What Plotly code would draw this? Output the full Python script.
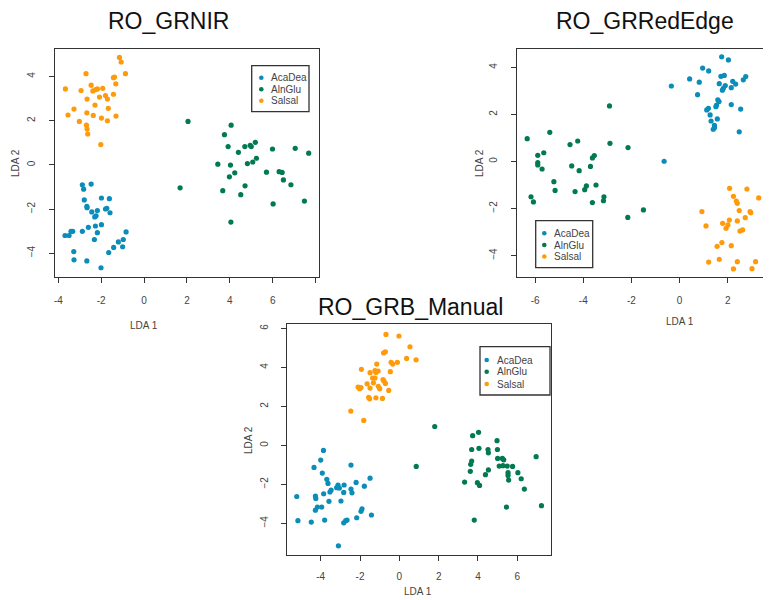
import plotly.graph_objects as go

# ---------------- data ----------------
species = ["AcaDea", "AlnGlu", "Salsal"]
colors = {"AcaDea": "#0A8DB8", "AlnGlu": "#017A4F", "Salsal": "#FF9A0A"}

# Panel 1: RO_GRNIR
grnir_aca = [(-2.88,-0.90),(-2.47,-0.87),(-2.82,-1.10),(-2.79,-1.59),(-2.67,-1.88),(-2.66,-1.94),
             (-1.99,-1.50),(-1.62,-1.53),(-2.44,-2.13),(-2.18,-2.07),(-2.24,-2.31),(-2.30,-2.36),
             (-1.80,-2.00),(-1.74,-1.97),(-1.59,-2.17),(-2.60,-2.83),(-2.27,-2.77),(-1.99,-2.71),
             (-2.88,-3.01),(-2.18,-3.07),(-3.69,-3.20),(-3.50,-3.20),(-3.41,-3.01),(-3.33,-3.01),
             (-2.32,-3.38),(-0.84,-3.04),(-0.97,-3.38),(-1.20,-3.49),(-1.42,-3.74),(-1.00,-3.71),
             (-1.65,-3.97),(-3.28,-3.93),(-3.27,-4.30),(-2.67,-4.35),(-2.01,-4.66)]
grnir_aln = [(2.05,1.97),(4.06,1.80),(3.75,1.37),(3.92,0.83),(4.40,0.57),(4.70,0.83),(4.95,0.89),
             (5.00,0.83),(5.19,1.02),(5.99,0.72),(7.05,0.75),(7.68,0.53),(3.44,0.03),(4.03,-0.01),
             (5.24,0.30),(5.07,0.13),(4.82,0.06),(4.23,-0.36),(3.98,-0.54),(5.71,-0.33),(6.30,-0.31),
             (6.44,-0.34),(6.50,-0.68),(6.85,-0.90),(4.71,-0.95),(3.67,-1.17),(4.51,-1.35),
             (1.68,-1.04),(6.02,-1.77),(7.48,-1.64),(4.05,-2.59)]
grnir_sal = [(-1.15,4.87),(-1.07,4.66),(-0.87,4.13),(-2.71,4.13),(-1.43,3.95),(-1.38,3.98),
             (-1.32,3.67),(-3.67,3.44),(-2.94,3.37),(-2.47,3.61),(-2.39,3.35),(-2.26,3.41),
             (-2.18,3.44),(-1.93,3.47),(-1.80,3.14),(-1.71,2.98),(-1.43,3.20),(-2.08,3.07),
             (-2.66,2.98),(-2.29,2.71),(-1.67,2.56),(-3.27,2.53),(-3.55,2.26),(-2.67,2.36),
             (-2.37,2.24),(-1.31,2.21),(-1.99,2.12),(-1.71,2.00),(-3.02,1.97),(-2.69,1.80),
             (-2.66,1.62),(-2.63,1.40),(-2.02,0.92)]

# Panel 2: RO_GRRedEdge
grred_aca = [(-0.64,0.01),(1.75,4.45),(2.03,4.32),(0.96,3.97),(1.21,3.85),(-0.34,3.21),(0.42,3.51),
             (0.82,3.37),(0.75,2.84),(1.72,3.62),(1.86,3.66),(1.65,3.31),(1.90,3.23),(1.82,3.11),
             (1.78,3.03),(2.21,3.41),(2.33,3.29),(2.15,3.14),(2.75,3.61),(2.65,3.47),(1.59,2.62),
             (1.64,2.55),(1.54,2.40),(1.51,2.33),(1.20,2.26),(1.13,2.19),(2.15,2.42),(2.54,2.23),
             (1.27,1.98),(1.57,1.81),(1.31,1.72),(1.45,1.54),(1.45,1.43),(1.40,1.37),(2.48,1.26)]
grred_aln = [(-6.33,0.97),(-5.39,1.24),(-4.55,0.72),(-4.23,0.87),(-2.91,2.36),(-2.89,0.77),
             (-2.14,0.59),(-5.89,0.26),(-5.89,-0.05),(-5.89,-0.15),(-5.64,0.37),(-5.71,-0.32),
             (-4.48,-0.19),(-4.17,-0.39),(-3.70,-0.21),(-3.62,0.15),(-3.54,0.25),(-5.22,-0.86),
             (-5.17,-1.23),(-4.34,-1.28),(-3.87,-1.04),(-3.94,-1.20),(-3.47,-1.00),(-6.17,-1.50),
             (-6.07,-1.72),(-3.62,-1.75),(-3.14,-1.50),(-3.16,-1.67),(-1.50,-2.06),(-2.15,-2.38)]
grred_sal = [(2.08,-1.14),(2.80,-1.17),(3.65,-1.34),(3.29,-1.55),(2.24,-1.48),(2.36,-1.68),
             (2.40,-1.78),(3.68,-1.91),(0.93,-2.13),(2.48,-2.09),(2.93,-2.13),(2.96,-2.18),
             (2.73,-2.39),(1.10,-2.74),(1.79,-2.63),(2.07,-2.49),(2.01,-2.70),(1.93,-2.84),
             (2.40,-2.53),(2.51,-2.96),(2.62,-2.91),(3.76,-2.91),(1.76,-3.45),(1.56,-3.61),
             (2.15,-3.58),(1.21,-4.28),(1.65,-4.16),(2.40,-4.26),(3.16,-4.26),(2.24,-4.57),
             (3.01,-4.56)]

# Panel 3: RO_GRB_Manual
grb_aca = [(-3.86,-0.26),(-4.00,-0.75),(-4.34,-1.13),(-2.46,-1.01),(-3.92,-1.42),(-3.69,-1.74),
           (-3.63,-1.95),(-1.49,-1.68),(-2.20,-1.90),(-1.78,-2.09),(-2.81,-2.03),(-3.12,-2.03),
           (-3.19,-2.17),(-3.05,-2.19),(-3.47,-2.29),(-3.53,-2.39),(-2.46,-2.24),(-2.41,-2.43),
           (-3.85,-2.48),(-2.83,-2.41),(-5.22,-2.62),(-4.27,-2.60),(-4.25,-2.72),(-3.58,-2.87),
           (-2.97,-2.85),(-3.95,-3.16),(-4.17,-3.16),(-4.27,-3.32),(-1.90,-3.25),(-1.95,-3.38),
           (-1.42,-3.57),(-2.17,-3.71),(-5.16,-3.86),(-4.48,-3.93),(-3.80,-3.83),(-2.73,-3.86),
           (-2.83,-3.97),(-2.66,-3.83),(-3.10,-5.15)]
grb_aln = [(1.80,0.97),(0.86,-1.08),(4.03,0.67),(3.73,0.50),(4.97,0.24),(4.05,-0.15),(3.68,-0.21),
           (4.51,-0.21),(4.53,-0.38),(4.99,-0.21),(6.96,-0.58),(5.00,-0.67),(5.24,-0.67),(5.31,-0.74),
           (3.68,-0.80),(3.63,-0.97),(3.61,-1.33),(5.08,-1.06),(5.27,-1.04),(5.49,-1.06),(5.76,-1.08),
           (4.53,-1.26),(4.38,-1.50),(5.53,-1.40),(5.53,-1.54),(6.03,-1.40),(6.20,-1.71),(5.56,-1.78),
           (3.32,-1.88),(3.97,-1.91),(4.08,-2.05),(6.36,-2.24),(5.45,-3.16),(7.23,-3.09),(3.81,-3.83)]
grb_sal = [(-0.68,5.69),(-0.02,5.61),(0.54,5.06),(-0.71,4.80),(-0.80,4.74),(0.37,4.46),(0.85,4.39),
           (-0.10,4.26),(-0.42,4.26),(-0.34,4.17),(-1.15,4.17),(-1.93,3.90),(-1.49,3.73),(-1.24,3.83),
           (-1.08,3.81),(-1.19,3.74),(-0.46,3.78),(-1.36,3.45),(-1.24,3.45),(-0.83,3.38),(-0.78,3.30),
           (-0.71,3.18),(-1.64,3.16),(-1.32,3.21),(-2.10,2.99),(-1.95,2.97),(-2.02,2.91),(-1.49,2.94),
           (-1.07,3.03),(-1.00,2.91),(-0.54,2.82),(-1.56,2.46),(-1.51,2.39),(-1.19,2.44),(-0.86,2.41),
           (-2.47,1.76),(-1.81,1.28)]

titles = ["RO_GRNIR", "RO_GRRedEdge", "RO_GRB_Manual"]
x_label = "LDA 1"
y_label = "LDA 2"
x_ticks = [[-4, -2, 0, 2, 4, 6, 8], [-6, -4, -2, 0, 2, 4], [-4, -2, 0, 2, 4, 6]]
x_ticktext = [["-4", "-2", "0", "2", "4", "6", ""], ["-6", "-4", "-2", "0", "2", "4"],
              ["-4", "-2", "0", "2", "4", "6"]]
y_ticks = [[-4, -2, 0, 2, 4], [-4, -2, 0, 2, 4], [-4, -2, 0, 2, 4, 6]]

panels = [
    {"AcaDea": grnir_aca, "AlnGlu": grnir_aln, "Salsal": grnir_sal},
    {"AcaDea": grred_aca, "AlnGlu": grred_aln, "Salsal": grred_sal},
    {"AcaDea": grb_aca, "AlnGlu": grb_aln, "Salsal": grb_sal},
]

# ---------------- layout helpers (window pixel -> paper) ----------------
# the page body has an 8px margin, so the figure is offset by 8px in the window
OFF = 8
W, H = 771 - OFF, 600 - OFF
def px(v): return (v - OFF) / W
def py(v): return 1 - (v - OFF) / H

FONT = "Liberation Sans, Arial, sans-serif"
TXT = "#444444"
LINE = "#333333"

# plot boxes in window pixels: left, right, top, bottom ; data ranges
boxes = [
    dict(l=55, r=319, t=49, b=277, xr=[-4.156, 8.16], yr=[-5.08, 5.25]),
    dict(l=517.3, r=771, t=49.3, b=276.7, xr=[-6.74, 3.80], yr=[-4.90, 4.77]),
    dict(l=287.3, r=550.7, t=324.3, b=555, xr=[-5.70, 7.70], yr=[-5.62, 6.21]),
]

fig = go.Figure()
for i, data in enumerate(panels):
    sfx = "" if i == 0 else str(i + 1)
    for sp in species:
        pts = data[sp]
        fig.add_trace(go.Scatter(
            x=[p[0] for p in pts], y=[p[1] for p in pts], mode="markers", name=sp,
            marker=dict(size=5.2, color=colors[sp], line=dict(width=0)),
            showlegend=False, xaxis="x" + sfx, yaxis="y" + sfx))

axis_common = dict(showline=True, linecolor=LINE, linewidth=1, ticks="outside", ticklen=5,
                   tickcolor=LINE, tickwidth=1, showgrid=False, zeroline=False,
                   tickfont=dict(family=FONT, size=10, color=TXT))

layout = dict(width=W, height=H, margin=dict(l=0, r=0, t=0, b=0), autosize=False,
              paper_bgcolor="white", plot_bgcolor="white", showlegend=False)
x_standoff = [9, 9, 7]
y_standoff = [10, 10, 9]
for i, b in enumerate(boxes):
    sfx = "" if i == 0 else str(i + 1)
    layout["xaxis" + sfx] = dict(axis_common, domain=[px(b["l"]), min(1, px(b["r"]))], range=b["xr"],
                                 anchor="y" + sfx, tickvals=x_ticks[i], ticktext=x_ticktext[i],
                                 mirror=True, ticklabelstandoff=x_standoff[i])
    layout["yaxis" + sfx] = dict(axis_common, domain=[py(b["b"]), py(b["t"])], range=b["yr"],
                                 anchor="x" + sfx, tickvals=y_ticks[i], tickangle=-90,
                                 mirror=(i != 1), ticklabelstandoff=y_standoff[i])
fig.update_layout(**layout)

# titles and axis labels (window pixels)
title_pos = [(168, 21), (645, 21), (411, 307)]
xlab_pos = [(144, 325), (680, 321), (418, 591)]
ylab_pos = [(15, 163), (479, 163), (248, 440)]
ann = []
for i in range(3):
    ann.append(dict(text=titles[i], x=px(title_pos[i][0]), y=py(title_pos[i][1]), xref="paper",
                    yref="paper", xanchor="center", yanchor="middle", showarrow=False,
                    font=dict(family=FONT, size=23, color="#111111")))
    ann.append(dict(text=x_label, x=px(xlab_pos[i][0]), y=py(xlab_pos[i][1]), xref="paper",
                    yref="paper", xanchor="center", yanchor="middle", showarrow=False,
                    font=dict(family=FONT, size=10, color=TXT)))
    ann.append(dict(text=y_label, x=px(ylab_pos[i][0]), y=py(ylab_pos[i][1]), xref="paper",
                    yref="paper", xanchor="center", yanchor="middle", showarrow=False,
                    textangle=-90, font=dict(family=FONT, size=10, color=TXT)))

# legends (box, row y's, marker x, text x) in window pixels
legends = [
    dict(box=(251.7, 65.7, 309, 111.7), rows=[77.7, 89.3, 100.7], mx=261.3, tx=268.5),
    dict(box=(535.7, 220.7, 592.7, 267.7), rows=[233.3, 245, 256.5], mx=544.3, tx=552),
    dict(box=(480, 346.7, 550, 395), rows=[360, 371.8, 384], mx=486.7, tx=495),
]
shapes = []
r = 2.3
for lg in legends:
    x0, y0, x1, y1 = lg["box"]
    shapes.append(dict(type="rect", xref="paper", yref="paper", x0=px(x0), x1=px(x1),
                       y0=py(y1), y1=py(y0), line=dict(color=LINE, width=1.3),
                       fillcolor="white", layer="above"))
    for sp, ry in zip(species, lg["rows"]):
        shapes.append(dict(type="circle", xref="paper", yref="paper",
                           x0=px(lg["mx"] - r), x1=px(lg["mx"] + r), y0=py(ry + r), y1=py(ry - r),
                           fillcolor=colors[sp], line=dict(width=0), layer="above"))
        ann.append(dict(text=sp, x=px(lg["tx"]), y=py(ry), xref="paper", yref="paper",
                        xanchor="left", yanchor="middle", showarrow=False,
                        font=dict(family=FONT, size=10, color=TXT)))

fig.update_layout(annotations=ann, shapes=shapes)
fig.write_html("out.html")
